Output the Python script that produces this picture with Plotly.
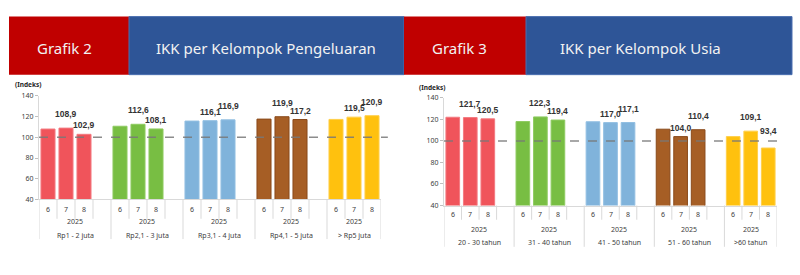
import plotly.graph_objects as go

W, H = 800, 275

months = ["6", "7", "8"]
year = "2025"
groups_left = ["Rp1 - 2 juta", "Rp2,1 - 3 juta", "Rp3,1 - 4 juta", "Rp4,1 - 5 juta", "> Rp5 juta"]
values_left = [
    [108.0, 108.9, 102.9],
    [110.7, 112.6, 108.1],
    [115.7, 116.1, 116.9],
    [117.6, 119.9, 117.2],
    [117.3, 119.5, 120.9],
]
groups_right = ["20 - 30 tahun", "31 - 40 tahun", "41 - 50 tahun", "51 - 60 tahun", ">60 tahun"]
values_right = [
    [122.0, 121.7, 120.5],
    [118.0, 122.3, 119.4],
    [117.8, 117.0, 117.1],
    [110.9, 104.0, 110.4],
    [104.0, 109.1, 93.4],
]
colors = ["#F0545B", "#78BE43", "#80B3DB", "#A65E25", "#FFC10E"]
borders = ["#F37A80", "#8FCB62", "#92BFE2", "#8A4A1A", "#FFCF4A"]
header_titles = [("Grafik 2", "IKK per Kelompok Pengeluaran"), ("Grafik 3", "IKK per Kelompok Usia")]

def py(px):
    return 1 - px / H

fig = go.Figure()
FONT = "Noto Sans"
LFONT = "Liberation Sans"
TXT = "#404040"
LINE = "#D9D9D9"

panels = [
    dict(groups=groups_left, values=values_left, xa="x", ya="y",
         xdom=[39 / W, 381 / W], ydom=[py(201), py(94)],
         axis_px=201, row1_px=221, full_px=242, m_px=211, y_px=224, g_px=238,
         idx_px=(28, 82)),
    dict(groups=groups_right, values=values_right, xa="x2", ya="y2",
         xdom=[444 / W, 777 / W], ydom=[py(207.3), py(96)],
         axis_px=207.3, row1_px=222, full_px=250, m_px=217, y_px=232, g_px=246,
         idx_px=(432, 85)),
]

shapes = []
annotations = []

def ann(**kw):
    kw.setdefault("xanchor", "center")
    kw.setdefault("yanchor", "middle")
    kw.setdefault("showarrow", False)
    annotations.append(kw)

for p in panels:
    ng = len(p["groups"])
    for g, (gname, vals) in enumerate(zip(p["groups"], p["values"])):
        xs = [g * 4 + j for j in range(len(months))]
        fig.add_trace(go.Bar(
            x=xs, y=vals, xaxis=p["xa"], yaxis=p["ya"],
            marker=dict(color=colors[g], line=dict(color=borders[g], width=1)),
            width=0.78, showlegend=False, hoverinfo="skip",
        ))
        # value labels for months 7 and 8; the higher of the pair is lifted to avoid overlap
        pair_max = max(vals[1:])
        for j in range(1, len(months)):
            v = vals[j]
            base = max(v, 100.0)
            shift = 7 if v == pair_max else 2
            if v < 100:
                shift = 3
            ann(x=xs[j], y=base, xref=p["xa"], yref=p["ya"], yanchor="bottom", yshift=shift,
                text="<b>" + f"{v:.1f}".replace(".", ",") + "</b>",
                font=dict(family=LFONT, size=8.5, color="#333333"))
        for j, m in enumerate(months):
            ann(x=g * 4 + j, y=py(p["m_px"]), xref=p["xa"], yref="paper",
                text=m, font=dict(family=FONT, size=7, color=TXT))
        nslots = 4 if g < ng - 1 else 3
        center = g * 4 + (nslots - 1) / 2
        ann(x=center, y=py(p["y_px"]), xref=p["xa"], yref="paper",
            text=year, font=dict(family=FONT, size=7, color=TXT))
        ann(x=center, y=py(p["g_px"]), xref=p["xa"], yref="paper",
            text=gname, font=dict(family=FONT, size=7, color=TXT))
        for s in range(1, nslots + 1):
            xb = g * 4 + s - 0.5
            bottom = p["full_px"] if (s == nslots) else p["row1_px"]
            shapes.append(dict(type="line", xref=p["xa"], yref="paper", x0=xb, x1=xb,
                               y0=py(p["axis_px"]), y1=py(bottom), line=dict(color=LINE, width=1)))
    shapes.append(dict(type="line", xref=p["xa"], yref="paper", x0=-0.5, x1=-0.5,
                       y0=py(p["axis_px"]), y1=py(p["full_px"]), line=dict(color=LINE, width=1)))
    shapes.append(dict(type="line", xref=p["xa"] + " domain", yref=p["ya"], x0=0, x1=1.02,
                       y0=100, y1=100, layer="above",
                       line=dict(color="rgba(120,120,120,0.85)", width=1.5, dash="dash")))
    ann(x=p["idx_px"][0] / W, y=py(p["idx_px"][1]), xref="paper", yref="paper",
        text="<b>(Indeks)</b>", font=dict(family=FONT, size=6.5, color="#262626"))

hdr = [(9, 129, 404), (404, 526, 792)]
for (x0, x1, x2), (t1, t2), tx1, tx2 in zip(hdr, header_titles, [64, 460], [266, 640]):
    shapes.append(dict(type="rect", xref="paper", yref="paper", x0=x0 / W, x1=x1 / W,
                       y0=py(72), y1=py(12), fillcolor="#C00000", line=dict(width=0), layer="below"))
    shapes.append(dict(type="rect", xref="paper", yref="paper", x0=x1 / W, x1=x2 / W,
                       y0=py(72), y1=py(12), fillcolor="#2E5597", line=dict(color="#4A6FB0", width=1),
                       layer="below"))
    ann(x=tx1 / W, y=py(44), xref="paper", yref="paper", text=t1,
        font=dict(family=FONT, size=15, color="#F2F2F2"))
    ann(x=tx2 / W, y=py(44), xref="paper", yref="paper", text=t2,
        font=dict(family=FONT, size=15, color="#F2F2F2"))

axis_common = dict(showgrid=False, zeroline=False)
fig.update_layout(
    width=W, height=H, margin=dict(l=0, r=0, t=0, b=0),
    paper_bgcolor="white", plot_bgcolor="white",
    shapes=shapes, annotations=annotations,
    xaxis=dict(domain=panels[0]["xdom"], range=[-0.5, 18.5], showticklabels=False, ticks="",
               showline=True, linecolor=LINE, anchor="y", **axis_common),
    yaxis=dict(domain=panels[0]["ydom"], range=[40, 140], dtick=20, showline=True, linecolor=LINE,
               ticks="outside", ticklen=3, tickcolor="#BFBFBF",
               tickfont=dict(family=FONT, size=7, color=TXT), anchor="x", **axis_common),
    xaxis2=dict(domain=panels[1]["xdom"], range=[-0.5, 18.5], showticklabels=False, ticks="",
                showline=True, linecolor=LINE, anchor="y2", **axis_common),
    yaxis2=dict(domain=panels[1]["ydom"], range=[40, 140], dtick=20, showline=True, linecolor=LINE,
                ticks="outside", ticklen=3, tickcolor="#BFBFBF",
                tickfont=dict(family=FONT, size=7, color=TXT), anchor="x2", **axis_common),
)

fig.write_html("out.html")
